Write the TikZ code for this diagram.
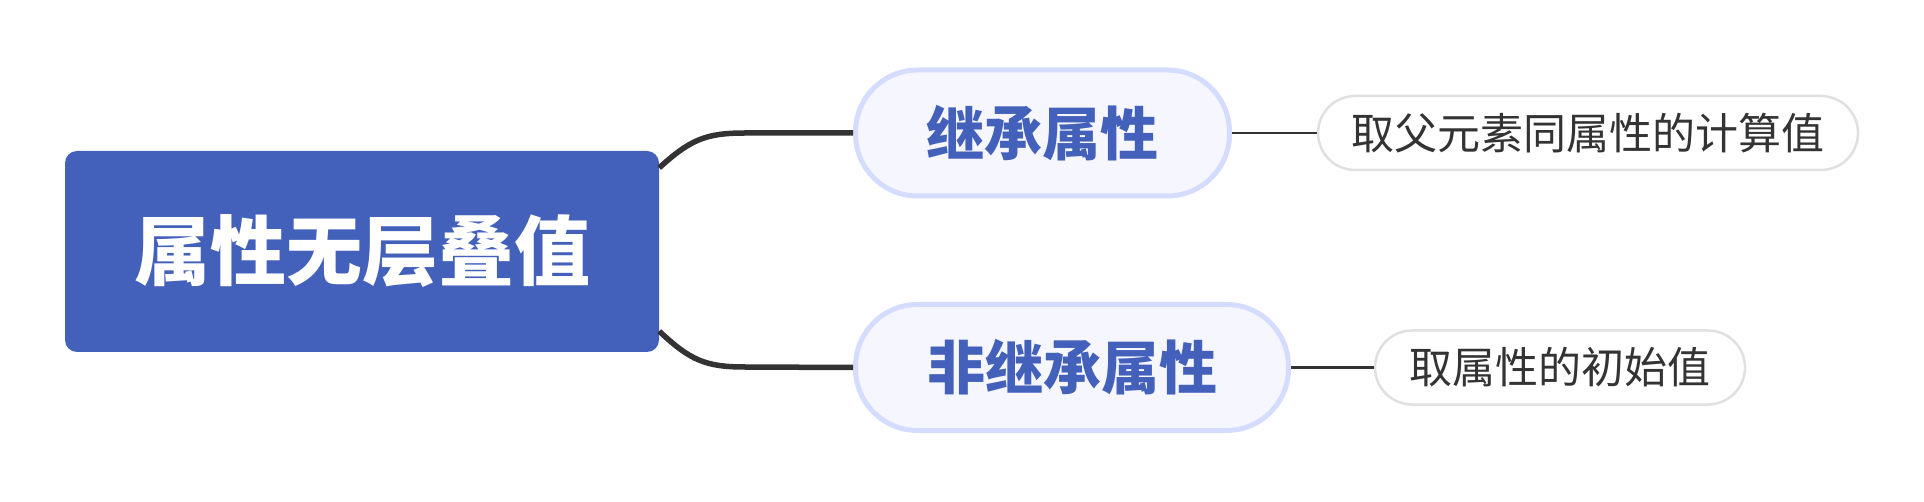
\documentclass[tikz,border=0pt]{standalone}
\usepackage{fontspec}
\newfontfamily\cjk{Noto Sans CJK SC}
\newfontfamily\cjkb{Noto Sans CJK SC Black}
\definecolor{rootblue}{HTML}{4361BA}
\definecolor{brfill}{HTML}{F5F6FF}
\definecolor{brline}{HTML}{D4DCFF}
\definecolor{brtext}{HTML}{4360BA}
\definecolor{leafline}{HTML}{E0E0E0}
\definecolor{ink}{HTML}{333333}
\tikzset{
  rootbox/.style={rectangle, rounded corners=12pt, fill=rootblue, draw=none,
    minimum width=594pt, minimum height=201pt, inner sep=0pt,
    text=white, font=\cjkb\fontsize{76pt}{80pt}\selectfont},
  branchbox/.style={rectangle, rounded corners=62pt, fill=brfill, draw=brline,
    line width=5pt, minimum height=126pt, inner sep=0pt,
    text=brtext, font=\cjkb\fontsize{58pt}{62pt}\selectfont},
  leafbox/.style={rectangle, rounded corners=37pt, fill=white, draw=leafline,
    line width=2.5pt, minimum height=74pt, inner sep=0pt,
    text=ink, font=\cjk\fontsize{43pt}{48pt}\selectfont},
  thick conn/.style={draw=ink, line width=5.5pt},
  thin conn/.style={draw=ink, line width=2.4pt},
}
\begin{document}
\begin{tikzpicture}[x=1pt,y=-1pt]
\useasboundingbox (0,0) rectangle (1924,502);
\node[rootbox] (root) at (362,251.5) {属性无层叠值};
\node[branchbox, minimum width=374pt] (b1) at (1042.5,133) {继承属性};
\node[branchbox, minimum width=433pt] (b2) at (1072,367.5) {非继承属性};
\node[leafbox, minimum width=540pt] (l1) at (1588,133) {取父元素同属性的计算值};
\node[leafbox, minimum width=370pt] (l2) at (1560,367.5) {取属性的初始值};
\coordinate (s1) at ([yshift=-17pt]root.north east);
\coordinate (s2) at ([yshift=21pt]root.south east);
\draw[thick conn] (s1) .. controls (690,140) and (705,133) .. (745,133) -- (b1.west);
\draw[thick conn] (s2) .. controls (690,360) and (705,367) .. (745,367) -- (b2.west);
\draw[thin conn] (b1.east) -- (l1.west);
\draw[thin conn] (b2.east) -- (l2.west);
\end{tikzpicture}
\end{document}
